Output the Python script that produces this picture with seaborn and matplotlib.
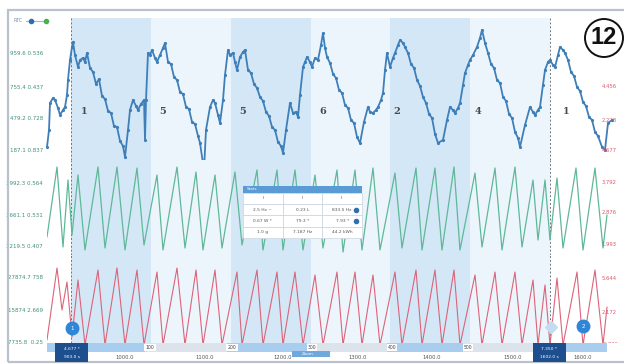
import seaborn as sns
import matplotlib.pyplot as plt
from matplotlib.patches import Rectangle, Ellipse
from matplotlib.lines import Line2D

sns.set_style('white')
plt.rcParams['font.family'] = ['DejaVu Sans']

W, H = 624, 364

# channel 1 (blue) - sample index / level
blue_x = [47, 49, 50, 53, 55, 58, 60, 63, 65, 67, 68, 70, 72, 73, 75, 78, 80, 83, 85, 87, 90,
          93, 96, 99, 102, 105, 108, 111, 114, 117, 120, 123, 125,
          128, 130, 133, 136, 138, 141, 144, 145, 146, 148, 150, 152, 155, 157, 160, 163, 165, 168,
          171, 174, 177, 180, 183, 186, 189, 192, 195, 198, 200, 204, 206,
          210, 213, 215, 218, 220, 223, 225, 228, 230, 233, 235, 237, 240, 243, 245, 248,
          251, 254, 257, 260, 263, 266, 269, 272, 275, 278, 281, 283,
          286, 290, 293, 296, 298, 300, 303, 305, 307, 310, 312, 315, 318, 321, 323, 325, 327,
          330, 333, 336, 339, 342, 345, 348, 351, 354, 357, 360,
          364, 368, 370, 373, 376, 378, 381, 383, 385, 387, 390, 393, 395, 398, 400, 403, 405,
          408, 411, 414, 417, 420, 423, 426, 429, 432, 435, 438, 443,
          447, 450, 453, 455, 458, 460, 463, 465, 468, 470, 473, 477, 480, 482, 485,
          488, 491, 494, 497, 500, 503, 506, 509, 512, 515, 518, 520,
          525, 530, 533, 535, 538, 540, 543, 545, 548, 550, 553, 555, 558, 560, 563, 565,
          568, 571, 574, 577, 580, 583, 586, 589, 592, 595, 598, 602, 605, 608, 612]
blue_y = [13, 30, 57, 62, 60, 52, 45, 50, 53, 65, 80, 100, 113, 118, 105, 93, 100, 102, 98, 107, 92,
          88, 76, 81, 64, 61, 49, 47, 34, 33, 19, 14, 3,
          30, 50, 60, 54, 50, 56, 60, 20, 60, 107, 105, 110, 102, 98, 105, 112, 117, 98,
          96, 83, 80, 68, 66, 53, 51, 38, 36, 24, 17, -10, 30,
          53, 60, 57, 45, 37, 60, 85, 110, 105, 107, 98, 90, 103, 108, 110, 90,
          87, 76, 72, 63, 59, 48, 44, 33, 30, 18, 14, 7,
          30, 57, 47, 48, 43, 65, 93, 98, 103, 98, 93, 102, 100, 115, 127, 112, 103,
          97, 86, 82, 70, 67, 55, 52, 40, 37, 23, 17,
          38, 53, 48, 47, 50, 53, 60, 67, 90, 107, 93, 102, 107, 115, 120, 117, 113,
          107, 96, 92, 80, 74, 63, 57, 46, 42, 26, 17, 20,
          40, 53, 50, 47, 52, 57, 75, 87, 95, 100, 105, 113, 122, 130, 117,
          107, 96, 92, 80, 77, 63, 59, 46, 42, 28, 22, 13,
          35, 53, 48, 45, 50, 53, 75, 90, 98, 100, 95, 93, 105, 113, 110, 107,
          100, 88, 84, 73, 69, 58, 54, 43, 40, 28, 24, 13, 10, 37, 40]

# channel 2 (green)
green_x = [47, 57, 63, 68, 72, 78, 85, 98, 105, 117, 125, 137, 144, 157, 163, 177, 185, 196, 203,
           215, 222, 235, 242, 257, 263, 277, 283, 295, 303, 315, 323, 337, 343, 355, 362, 373,
           380, 395, 402, 416, 422, 435, 442, 454, 460, 475, 482, 495, 502, 515, 522, 533, 538,
           545, 550, 557, 563, 576, 583, 595, 603, 607]
green_y = [18, 88, 8, 75, 20, 80, 5, 88, 7, 88, 5, 87, 10, 80, 5, 88, 7, 83, 5,
           80, 7, 83, 10, 85, 5, 85, 5, 85, 5, 80, 7, 85, 3, 85, 5, 87,
           5, 82, 7, 87, 5, 87, 5, 88, 5, 82, 8, 87, 5, 88, 8, 75, 15,
           75, 15, 77, 7, 87, 5, 87, 7, 40]

# channel 3 (red)
red_x = [47, 57, 62, 67, 72, 78, 85, 98, 105, 117, 125, 137, 144, 157, 163, 177, 185, 196, 203,
         215, 222, 237, 242, 257, 263, 277, 283, 295, 303, 315, 323, 337, 343, 355, 362, 373,
         380, 395, 402, 416, 422, 435, 442, 454, 460, 475, 482, 495, 502, 515, 522, 533, 538,
         545, 550, 557, 563, 577, 583, 595, 603, 607]
red_y = [10, 82, 40, 68, 13, 70, 5, 80, 5, 82, 5, 80, 5, 78, 5, 82, 5, 80, 5,
         80, 5, 78, 5, 80, 5, 78, 5, 78, 5, 75, 5, 78, 5, 78, 5, 75,
         5, 78, 5, 80, 5, 80, 5, 80, 5, 75, 5, 78, 5, 78, 5, 70, 5,
         65, 5, 72, 5, 78, 5, 80, 5, 43]

band_edges = [71, 151, 231, 311, 390, 470, 550]
band_names = ['1', '5', '5', '6', '2', '4', '1']
band_label_x = [84, 163, 243, 323, 397, 478, 566]
cursor_x = [71, 550]

blue_ticks = [107, 73, 42, 10]
blue_tick_labels = ['959.6 0.536', '755.4 0.437', '479.2 0.728', '187.1 0.837']
green_ticks = [72, 40, 9]
green_tick_labels = ['3992.3 0.564', '3661.1 0.531', '3219.5 0.407']
red_ticks = [73, 40, 8]
red_tick_labels = ['27874.7 758', '15874 2.669', '7735.8  0.25']

blue_right = [73, 40, 10]
blue_right_labels = ['4.456', '2.228', '4.677']
green_right = [73, 42, 10]
green_right_labels = ['3.792', '2.876', '1.993']
red_right = [71, 37, 5]
red_right_labels = ['5.644', '2.172', '-0.736']

time_ticks = [125, 205, 283, 358, 432, 513, 583]
time_labels = ['1000.0', '1100.0', '1200.0', '1300.0', '1400.0', '1500.0', '1600.0']

bar_edges = [47, 145, 227, 307, 387, 463, 550, 607]
bar_marks = [145, 227, 307, 387, 463]
bar_mark_labels = ['100', '200', '300', '400', '500']

table_rows = [['I', 'I', 'II'],
              ['2.5 Hz ~', '0.23 L', '833.5 Hz'],
              ['0.67 W *', '79.3 *', '7.93 *'],
              ['1.0 g', '7.187 Hz', '44.2 kWh']]


def px_rect(x0, y0, x1, y1):
    return [x0 / W, 1 - y1 / H, (x1 - x0) / W, (y1 - y0) / H]


fig = plt.figure(figsize=(W / 100, H / 100), dpi=100)
fig.patches.append(Rectangle((8 / W, 1 - 362 / H), 1, 352 / H, transform=fig.transFigure,
                             fill=False, ec='#b9c2cc', lw=1.6, zorder=0))

ax_b = fig.add_axes(px_rect(47, 18, 620, 160))
ax_g = fig.add_axes(px_rect(47, 160, 620, 255))
ax_r = fig.add_axes(px_rect(47, 255, 620, 343))
ax_bar = fig.add_axes(px_rect(47, 343, 620, 352))

band_colors = ['#d3e7f6', '#edf5fc']
for ax in (ax_b, ax_g, ax_r):
    ax.set_xlim(47, 620)
    ax.set_facecolor('white')
    for i in range(len(band_edges) - 1):
        ax.axvspan(band_edges[i], band_edges[i + 1], color=band_colors[i % 2], lw=0, zorder=0)
    for c in cursor_x:
        ax.axvline(c, color='#6d7680', lw=0.7, ls=(0, (2, 2)), zorder=1)
    sns.despine(ax=ax, left=True, bottom=True)
    ax.set_xticks([])
    ax.tick_params(axis='y', length=0, labelsize=4, labelcolor='#3f8f7c', pad=3)

ax_b.set_ylim(0, 142)
ax_g.set_ylim(0, 95)
ax_r.set_ylim(7, 95)

sns.lineplot(x=blue_x, y=blue_y, ax=ax_b, color='#3f7fb9', lw=1.3, estimator=None, sort=False,
             marker='o', markersize=2.3, markeredgewidth=0, clip_on=False, zorder=3)
sns.lineplot(x=green_x, y=green_y, ax=ax_g, color='#5fb898', lw=0.9, estimator=None, sort=False, zorder=3)
sns.lineplot(x=red_x, y=red_y, ax=ax_r, color='#dc6479', lw=0.8, estimator=None, sort=False, zorder=3)

for ax, t, tl, r, rl in ((ax_b, blue_ticks, blue_tick_labels, blue_right, blue_right_labels),
                         (ax_g, green_ticks, green_tick_labels, green_right, green_right_labels),
                         (ax_r, red_ticks, red_tick_labels, red_right, red_right_labels)):
    ax.set_yticks(t, tl)
    ax.set_xlabel('')
    ax.set_ylabel('')
    for v, s in zip(r, rl):
        ax.text(0.968, v, s, transform=ax.get_yaxis_transform(), fontsize=3.8,
                color='#e0566b', va='center', ha='left', zorder=4)

for x, s in zip(band_label_x, band_names):
    ax_b.text(x, 48, s, fontsize=7, fontweight='bold', color='#4a4a4a',
              family='DejaVu Serif', ha='center', va='center', zorder=4)

# cursor handles
ax_r.plot(72, 22, 'o', ms=9, color='#2f86d6', zorder=5, clip_on=False)
ax_r.text(72, 22, '1', fontsize=4, color='white', ha='center', va='center', zorder=6)
ax_r.plot(583, 24, 'o', ms=9, color='#2f86d6', zorder=5)
ax_r.text(583, 24, '2', fontsize=4, color='white', ha='center', va='center', zorder=6)
ax_r.plot(551, 23, 'D', ms=6, color='#c3dcf1', zorder=5)

# range bar along the bottom
ax_bar.set_xlim(47, 620)
ax_bar.set_ylim(0, 1)
for i in range(len(bar_edges) - 1):
    ax_bar.barh(0.5, bar_edges[i + 1] - bar_edges[i], left=bar_edges[i], height=1,
                color=['#a8cdee', '#dde3ea'][i % 2], lw=0)
for x, s in zip(bar_marks, bar_mark_labels):
    ax_bar.text(x + 5, 0.5, s, fontsize=3.3, color='#444', ha='center', va='center',
                bbox=dict(boxstyle='square,pad=0.25', fc='white', ec='none'))
ax_bar.set_xticks(time_ticks, time_labels)
ax_bar.set_yticks([])
ax_bar.tick_params(axis='x', length=0, labelsize=3.8, labelcolor='#555', pad=2.5)
sns.despine(ax=ax_bar, left=True, bottom=True)

# cursor value boxes
for x0, top, bottom in ((55, '4.677 *', '903.0 s'), (533, '7.350 *', '1602.0 s')):
    fig.patches.append(Rectangle((x0 / W, 1 - 362 / H), 33 / W, 19 / H, transform=fig.transFigure,
                                 fc='#1d4f8f', ec='none', zorder=5))
    fig.text((x0 + 16.5) / W, 1 - 349 / H, top, fontsize=3.2, color='white', ha='center', va='center', zorder=6)
    fig.text((x0 + 16.5) / W, 1 - 357 / H, bottom, fontsize=3.2, color='white', ha='center', va='center', zorder=6)

# small zoom widget
fig.patches.append(Rectangle((292 / W, 1 - 357 / H), 38 / W, 6 / H, transform=fig.transFigure,
                             fc='#6fa8dc', ec='none', zorder=5))
fig.text(302 / W, 1 - 354 / H, 'Zoom', fontsize=3, color='white', va='center', zorder=6)

# legend top left
fig.text(14 / W, 1 - 21 / H, 'RTC', fontsize=3.5, color='#6a8fb0', va='center')
fig.lines.append(Line2D([26 / W, 48 / W], [1 - 21 / H] * 2, transform=fig.transFigure, color='#8fbcd8', lw=0.8))
fig.lines.append(Line2D([31 / W], [1 - 21 / H], transform=fig.transFigure, marker='o', ms=3, color='#2d6fae'))
fig.lines.append(Line2D([46 / W], [1 - 21 / H], transform=fig.transFigure, marker='o', ms=3, color='#4caf50'))

# stats table
ax_t = fig.add_axes(px_rect(243, 186, 362, 238))
ax_t.set_xlim(0, 1)
ax_t.set_ylim(0, 1)
ax_t.axis('off')
ax_t.add_patch(Rectangle((0, 0.87), 1, 0.13, fc='#5b9bd5', ec='none'))
ax_t.text(0.03, 0.935, 'Stats', fontsize=3, color='white', va='center')
tbl = ax_t.table(cellText=table_rows, bbox=[0, 0, 1, 0.87], cellLoc='center')
tbl.auto_set_font_size(False)
tbl.set_fontsize(3.2)
for cell in tbl.get_celld().values():
    cell.set_edgecolor('#c9d4df')
    cell.set_linewidth(0.5)
    cell.get_text().set_color('#555')
ax_t.plot([0.95, 0.95], [0.54, 0.33], 'o', ms=3, color='#2f6fb0', zorder=5)

# figure number badge
fig.patches.append(Ellipse((604 / W, 1 - 38 / H), 38 / W, 38 / H, transform=fig.transFigure,
                           fc='white', ec='#111', lw=1.4, zorder=7))
fig.text(604 / W, 1 - 38 / H, '12', fontsize=17, fontweight='bold', family='Liberation Sans',
         ha='center', va='center', color='#111', zorder=8)

fig.savefig('out.png', dpi=100)
